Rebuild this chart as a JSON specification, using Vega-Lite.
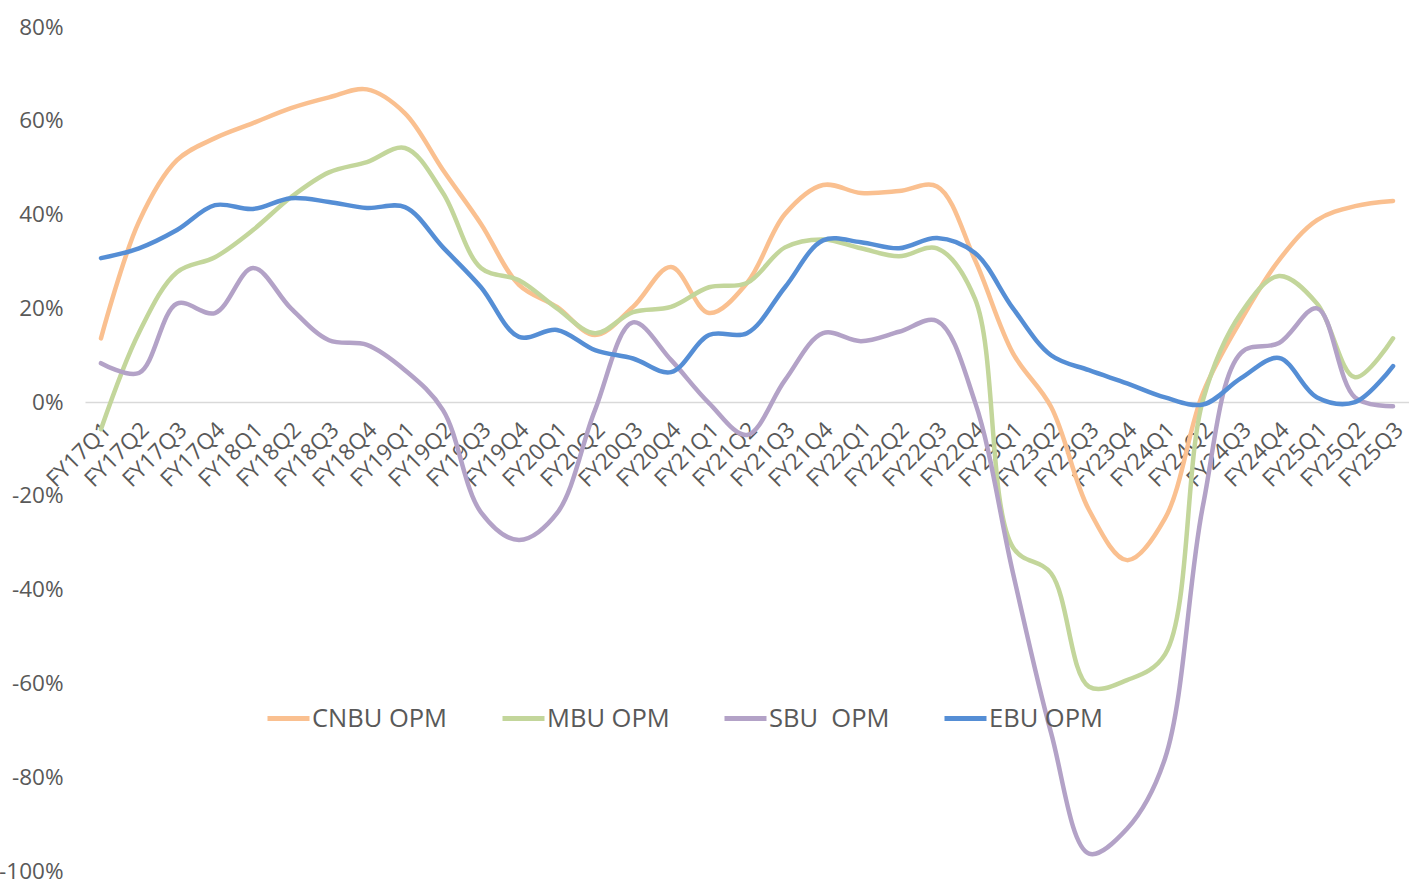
{
  "$schema": "https://vega.github.io/schema/vega-lite/v6.json",
  "autosize": {"type": "none"},
  "padding": {"left": 85, "top": 27, "right": 0, "bottom": 17},
  "width": 1324,
  "height": 844,
  "background": "white",
  "config": {"view": {"stroke": null}, "font": "Open Sans"},
  "data": {"values": [
    {"q":"FY17Q1","s":"CNBU OPM","v":13.6},{"q":"FY17Q2","s":"CNBU OPM","v":38.5},{"q":"FY17Q3","s":"CNBU OPM","v":51.6},{"q":"FY17Q4","s":"CNBU OPM","v":56.3},{"q":"FY18Q1","s":"CNBU OPM","v":59.5},{"q":"FY18Q2","s":"CNBU OPM","v":62.7},{"q":"FY18Q3","s":"CNBU OPM","v":65.0},{"q":"FY18Q4","s":"CNBU OPM","v":66.7},{"q":"FY19Q1","s":"CNBU OPM","v":61.6},{"q":"FY19Q2","s":"CNBU OPM","v":49.5},{"q":"FY19Q3","s":"CNBU OPM","v":38.0},{"q":"FY19Q4","s":"CNBU OPM","v":25.0},{"q":"FY20Q1","s":"CNBU OPM","v":20.3},{"q":"FY20Q2","s":"CNBU OPM","v":14.3},{"q":"FY20Q3","s":"CNBU OPM","v":20.3},{"q":"FY20Q4","s":"CNBU OPM","v":28.8},{"q":"FY21Q1","s":"CNBU OPM","v":19.0},{"q":"FY21Q2","s":"CNBU OPM","v":25.4},{"q":"FY21Q3","s":"CNBU OPM","v":40.1},{"q":"FY21Q4","s":"CNBU OPM","v":46.3},{"q":"FY22Q1","s":"CNBU OPM","v":44.6},{"q":"FY22Q2","s":"CNBU OPM","v":45.0},{"q":"FY22Q3","s":"CNBU OPM","v":46.0},{"q":"FY22Q4","s":"CNBU OPM","v":30.3},{"q":"FY23Q1","s":"CNBU OPM","v":10.4},{"q":"FY23Q2","s":"CNBU OPM","v":-1.0},{"q":"FY23Q3","s":"CNBU OPM","v":-23.0},{"q":"FY23Q4","s":"CNBU OPM","v":-33.7},{"q":"FY24Q1","s":"CNBU OPM","v":-24.8},{"q":"FY24Q2","s":"CNBU OPM","v":2.0},{"q":"FY24Q3","s":"CNBU OPM","v":17.5},{"q":"FY24Q4","s":"CNBU OPM","v":30.3},{"q":"FY25Q1","s":"CNBU OPM","v":38.8},{"q":"FY25Q2","s":"CNBU OPM","v":41.8},{"q":"FY25Q3","s":"CNBU OPM","v":42.9},
    {"q":"FY17Q1","s":"MBU OPM","v":-5.8},{"q":"FY17Q2","s":"MBU OPM","v":14.8},{"q":"FY17Q3","s":"MBU OPM","v":27.7},{"q":"FY17Q4","s":"MBU OPM","v":30.9},{"q":"FY18Q1","s":"MBU OPM","v":36.7},{"q":"FY18Q2","s":"MBU OPM","v":43.7},{"q":"FY18Q3","s":"MBU OPM","v":49.0},{"q":"FY18Q4","s":"MBU OPM","v":51.2},{"q":"FY19Q1","s":"MBU OPM","v":54.2},{"q":"FY19Q2","s":"MBU OPM","v":44.6},{"q":"FY19Q3","s":"MBU OPM","v":28.6},{"q":"FY19Q4","s":"MBU OPM","v":26.0},{"q":"FY20Q1","s":"MBU OPM","v":20.0},{"q":"FY20Q2","s":"MBU OPM","v":14.7},{"q":"FY20Q3","s":"MBU OPM","v":19.2},{"q":"FY20Q4","s":"MBU OPM","v":20.3},{"q":"FY21Q1","s":"MBU OPM","v":24.5},{"q":"FY21Q2","s":"MBU OPM","v":25.4},{"q":"FY21Q3","s":"MBU OPM","v":33.0},{"q":"FY21Q4","s":"MBU OPM","v":34.7},{"q":"FY22Q1","s":"MBU OPM","v":32.8},{"q":"FY22Q2","s":"MBU OPM","v":31.1},{"q":"FY22Q3","s":"MBU OPM","v":32.8},{"q":"FY22Q4","s":"MBU OPM","v":22.0},{"q":"FY23Q1","s":"MBU OPM","v":-31.0},{"q":"FY23Q2","s":"MBU OPM","v":-36.5},{"q":"FY23Q3","s":"MBU OPM","v":-60.7},{"q":"FY23Q4","s":"MBU OPM","v":-59.3},{"q":"FY24Q1","s":"MBU OPM","v":-53.8},{"q":"FY24Q2","s":"MBU OPM","v":0.5},{"q":"FY24Q3","s":"MBU OPM","v":19.0},{"q":"FY24Q4","s":"MBU OPM","v":26.9},{"q":"FY25Q1","s":"MBU OPM","v":21.0},{"q":"FY25Q2","s":"MBU OPM","v":5.3},{"q":"FY25Q3","s":"MBU OPM","v":13.6},
    {"q":"FY17Q1","s":"SBU\u00a0 OPM","v":8.3},{"q":"FY17Q2","s":"SBU\u00a0 OPM","v":6.2},{"q":"FY17Q3","s":"SBU\u00a0 OPM","v":21.0},{"q":"FY17Q4","s":"SBU\u00a0 OPM","v":19.0},{"q":"FY18Q1","s":"SBU\u00a0 OPM","v":28.6},{"q":"FY18Q2","s":"SBU\u00a0 OPM","v":20.0},{"q":"FY18Q3","s":"SBU\u00a0 OPM","v":13.2},{"q":"FY18Q4","s":"SBU\u00a0 OPM","v":12.2},{"q":"FY19Q1","s":"SBU\u00a0 OPM","v":6.8},{"q":"FY19Q2","s":"SBU\u00a0 OPM","v":-1.7},{"q":"FY19Q3","s":"SBU\u00a0 OPM","v":-23.5},{"q":"FY19Q4","s":"SBU\u00a0 OPM","v":-29.4},{"q":"FY20Q1","s":"SBU\u00a0 OPM","v":-23.7},{"q":"FY20Q2","s":"SBU\u00a0 OPM","v":-1.7},{"q":"FY20Q3","s":"SBU\u00a0 OPM","v":17.0},{"q":"FY20Q4","s":"SBU\u00a0 OPM","v":9.0},{"q":"FY21Q1","s":"SBU\u00a0 OPM","v":-0.2},{"q":"FY21Q2","s":"SBU\u00a0 OPM","v":-7.0},{"q":"FY21Q3","s":"SBU\u00a0 OPM","v":4.7},{"q":"FY21Q4","s":"SBU\u00a0 OPM","v":14.7},{"q":"FY22Q1","s":"SBU\u00a0 OPM","v":13.0},{"q":"FY22Q2","s":"SBU\u00a0 OPM","v":15.0},{"q":"FY22Q3","s":"SBU\u00a0 OPM","v":17.3},{"q":"FY22Q4","s":"SBU\u00a0 OPM","v":0.0},{"q":"FY23Q1","s":"SBU\u00a0 OPM","v":-36.5},{"q":"FY23Q2","s":"SBU\u00a0 OPM","v":-70.5},{"q":"FY23Q3","s":"SBU\u00a0 OPM","v":-96.3},{"q":"FY23Q4","s":"SBU\u00a0 OPM","v":-91.0},{"q":"FY24Q1","s":"SBU\u00a0 OPM","v":-76.0},{"q":"FY24Q2","s":"SBU\u00a0 OPM","v":-22.0},{"q":"FY24Q3","s":"SBU\u00a0 OPM","v":10.5},{"q":"FY24Q4","s":"SBU\u00a0 OPM","v":12.6},{"q":"FY25Q1","s":"SBU\u00a0 OPM","v":20.0},{"q":"FY25Q2","s":"SBU\u00a0 OPM","v":1.0},{"q":"FY25Q3","s":"SBU\u00a0 OPM","v":-0.9},
    {"q":"FY17Q1","s":"EBU OPM","v":30.7},{"q":"FY17Q2","s":"EBU OPM","v":32.8},{"q":"FY17Q3","s":"EBU OPM","v":36.7},{"q":"FY17Q4","s":"EBU OPM","v":42.0},{"q":"FY18Q1","s":"EBU OPM","v":41.2},{"q":"FY18Q2","s":"EBU OPM","v":43.5},{"q":"FY18Q3","s":"EBU OPM","v":42.7},{"q":"FY18Q4","s":"EBU OPM","v":41.4},{"q":"FY19Q1","s":"EBU OPM","v":41.6},{"q":"FY19Q2","s":"EBU OPM","v":33.0},{"q":"FY19Q3","s":"EBU OPM","v":24.5},{"q":"FY19Q4","s":"EBU OPM","v":13.9},{"q":"FY20Q1","s":"EBU OPM","v":15.4},{"q":"FY20Q2","s":"EBU OPM","v":11.1},{"q":"FY20Q3","s":"EBU OPM","v":9.3},{"q":"FY20Q4","s":"EBU OPM","v":6.4},{"q":"FY21Q1","s":"EBU OPM","v":14.3},{"q":"FY21Q2","s":"EBU OPM","v":14.7},{"q":"FY21Q3","s":"EBU OPM","v":24.5},{"q":"FY21Q4","s":"EBU OPM","v":34.5},{"q":"FY22Q1","s":"EBU OPM","v":34.1},{"q":"FY22Q2","s":"EBU OPM","v":32.8},{"q":"FY22Q3","s":"EBU OPM","v":35.0},{"q":"FY22Q4","s":"EBU OPM","v":31.8},{"q":"FY23Q1","s":"EBU OPM","v":20.0},{"q":"FY23Q2","s":"EBU OPM","v":10.0},{"q":"FY23Q3","s":"EBU OPM","v":6.8},{"q":"FY23Q4","s":"EBU OPM","v":4.0},{"q":"FY24Q1","s":"EBU OPM","v":1.0},{"q":"FY24Q2","s":"EBU OPM","v":-0.5},{"q":"FY24Q3","s":"EBU OPM","v":5.1},{"q":"FY24Q4","s":"EBU OPM","v":9.4},{"q":"FY25Q1","s":"EBU OPM","v":1.0},{"q":"FY25Q2","s":"EBU OPM","v":0.0},{"q":"FY25Q3","s":"EBU OPM","v":7.7}
  ]},
  "mark": {"type": "line", "interpolate": "catmull-rom", "strokeWidth": 4.5, "strokeCap": "round", "clip": false},
  "encoding": {
    "x": {
      "field": "q", "type": "ordinal", "sort": null,
      "scale": {"type": "point", "padding": 0.42},
      "axis": {
        "title": null, "orient": "bottom", "offset": -469,
        "labelAngle": -45, "labelAlign": "right", "labelBaseline": "middle",
        "labelFontSize": 22.5, "labelColor": "#595959", "labelFont": "Open Sans",
        "labelPadding": 24, "labelOffset": 6,
        "ticks": false, "grid": false,
        "domain": true, "domainColor": "#D9D9D9", "domainWidth": 1.5
      }
    },
    "y": {
      "field": "v", "type": "quantitative",
      "scale": {"domain": [-100, 80], "nice": false, "zero": false},
      "axis": {
        "title": null, "values": [-100, -80, -60, -40, -20, 0, 20, 40, 60, 80],
        "labelExpr": "datum.value + '%'",
        "ticks": false, "domain": false, "grid": false,
        "labelPadding": 22, "labelFontSize": 22.5, "labelColor": "#595959", "labelFont": "Open Sans"
      }
    },
    "color": {
      "field": "s", "type": "nominal",
      "scale": {
        "domain": ["CNBU OPM", "MBU OPM", "SBU\u00a0 OPM", "EBU OPM"],
        "range": ["#FAC090", "#C3D69B", "#B3A2C7", "#558ED5"]
      },
      "legend": {
        "title": null, "orient": "none", "legendX": 180, "legendY": 668,
        "direction": "horizontal", "symbolType": "stroke", "symbolSize": 1764,
        "symbolStrokeWidth": 5, "labelFontSize": 25.5, "labelFont": "Open Sans",
        "labelColor": "#595959", "columnPadding": 44, "labelOffset": 0
      }
    }
  }
}
